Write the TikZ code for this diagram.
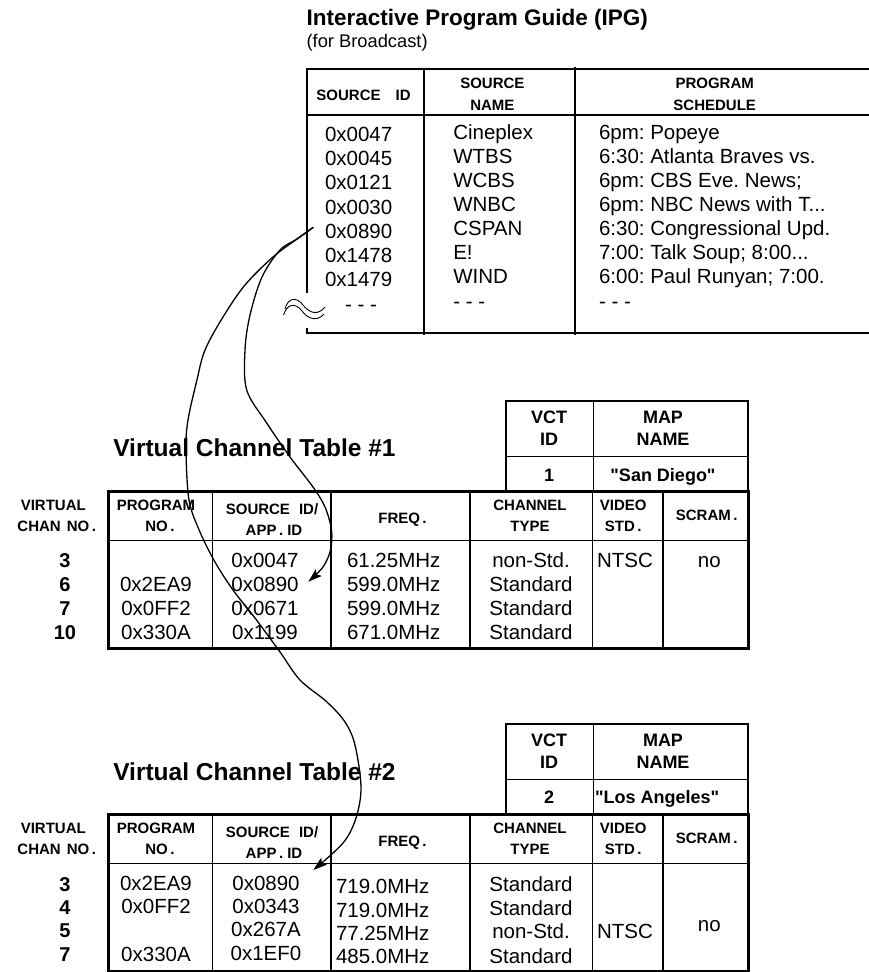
\documentclass[tikz,border=0pt]{standalone}
\usepackage{fontspec}
\setmainfont{Liberation Sans}
\usetikzlibrary{arrows.meta,calc}
\frenchspacing
\tikzset{
  every node/.style={inner sep=0pt, outer sep=0pt},
  bt/.style={font=\fontsize{20.5}{24}\selectfont, anchor=base west},
  bc/.style={font=\fontsize{20.5}{24}\selectfont, anchor=base},
  num/.style={font=\fontsize{20}{24}\selectfont\bfseries, anchor=base},
  hd/.style={font=\fontsize{15}{18}\selectfont\bfseries, anchor=base},
  bh/.style={font=\fontsize{18}{22}\selectfont\bfseries, anchor=base},
  ttl/.style={font=\fontsize{24.5}{28}\selectfont\bfseries, anchor=base west},
  sub/.style={font=\fontsize{18.3}{22}\selectfont, anchor=base west},
  rule/.style={line width=1.2pt},
  frame/.style={line width=2.5pt, line cap=rect},
  conn/.style={line width=1.3pt, -{Stealth[length=14pt,width=9pt,inset=3pt]}},
  wavy/.style={line width=0.9pt},
}
\newcommand{\qq}{\XeTeXglyph\XeTeXglyphindex "quotedbl"\relax}
\newcommand{\vctframe}{%
  \draw[line width=2pt, line cap=rect] (506,400.7) rectangle (748.3,491.5);
  \draw[rule] (593.3,400.7) -- (593.3,491.5) (506,456.7) -- (748.3,456.7);
  \draw[rule] (212.7,491.5) -- (212.7,648.3) (331,491.5) -- (331,648.3)
    (470,491.5) -- (470,648.3) (592.7,491.5) -- (592.7,648.3)
    (663,491.5) -- (663,648.3) (108.3,540.7) -- (748.3,540.7);
  \draw[frame] (108.3,491.5) -- (748.3,491.5) (108.3,648.3) -- (748.3,648.3)
    (748.3,491.5) -- (748.3,648.3);
  \draw[line width=3.5pt] (108.3,490.3) -- (108.3,649.5);
  \node[bh] (vct) at (549,423.3) {VCT};
  \node[bh] (id) at (549,445) {ID};
  \node[bh] (map) at (663,423.3) {MAP};
  \node[bh] (name) at (663,445) {NAME};
  \node[hd] (hv1) at (53.3,510.7) {VIRTUAL};
  \node[hd] (hv2) at (56.7,531.7) {CHAN\hspace{6pt}NO\,.};
  \node[hd] (hp1) at (156,510.7) {PROGRAM};
  \node[hd] (hp2) at (160,531.7) {NO\,.};
  \node[hd] (hs1) at (272,514) {SOURCE\hspace{9pt}ID/};
  \node[hd] (hs2) at (274,535) {APP\,.\hspace{4pt}ID};
  \node[hd] (hf) at (402.5,523.3) {FREQ\,.};
  \node[hd] (hc1) at (530,510.7) {CHANNEL};
  \node[hd] (hc2) at (530,531.7) {TYPE};
  \node[hd] (hvd1) at (623.3,510.7) {VIDEO};
  \node[hd] (hvd2) at (623.3,531.7) {STD\,.};
  \node[hd] (hsc) at (706.7,520) {SCRAM\,.};
}
\begin{document}
\begin{tikzpicture}[x=1pt,y=-1pt]
\useasboundingbox (0,0) rectangle (869,972);

% ---------------- IPG ----------------
\node[ttl, font=\fontsize{22.5}{28}\selectfont\bfseries] (ipgT) at (306.6,25) {Interactive Program Guide (IPG)};
\node[sub] (ipgS) at (306.6,47.3) {(for Broadcast)};
\draw[line width=2pt] (306,69.3) -- (869,69.3);
\draw[rule] (307,115) -- (869,115);
\draw[line width=2.2pt] (307,68.3) -- (307,293.3) (307,328.3) -- (307,334);
\draw[line width=2.5pt] (305.9,333) -- (869,333);
\draw[rule] (424,69.3) -- (424,335);
\draw[rule] (575,66.5) -- (575,335);
\node[hd] (h1) at (363.5,100) {SOURCE\hspace{15pt}ID};
\node[hd] (h2a) at (492.4,88.3) {SOURCE};
\node[hd] (h2b) at (492.4,110) {NAME};
\node[hd] (h3a) at (714.7,88.3) {PROGRAM};
\node[hd] (h3b) at (714.7,110) {SCHEDULE};
\foreach \t [count=\i] in {0x0047,0x0045,0x0121,0x0030,0x0890,0x1478,0x1479}
  \node[bt] (i\i) at (325,{141.5+24.2*(\i-1)}) {\t};
\foreach \t [count=\i] in {Cineplex,WTBS,WCBS,WNBC,CSPAN,E!,WIND}
  \node[bt] (n\i) at (453.3,{139+24.05*(\i-1)}) {\t};
\node[bt] (s1) at (599,139) {6pm: Popeye};
\node[bt] (s2) at (599,163.05) {6:30: Atlanta Braves vs.};
\node[bt] (s3) at (599,187.1) {6pm: CBS Eve. News;};
\node[bt] (s4) at (599,211.15) {6pm: NBC News with T...};
\node[bt] (s5) at (599,235.2) {6:30: Congressional Upd.};
\node[bt] (s6) at (599,259.25) {7:00: Talk Soup; 8:00...};
\node[bt] (s7) at (599,283.3) {6:00: Paul Runyan; 7:00.};
\node[bt] (i8) at (345,311) {- - -};
\node[bt] (n8) at (453.3,308) {- - -};
\node[bt] (s8) at (599,308) {- - -};
\draw[wavy] (285,309) .. controls (288,298) and (296,296) .. (303,305)
  .. controls (309,313) and (318,316) .. (325,307);
\draw[wavy] (283.5,315) .. controls (287,304) and (295,302) .. (302,311)
  .. controls (308,319) and (317,322) .. (324,314);

% ---------------- VCT #1 ----------------
\begin{scope}[name prefix=v1-]
\vctframe
\node[ttl] (title) at (113.3,456.7) {Virtual Channel Table \#1};
\node[bh] (vid) at (549,481.7) {1};
\node[bh] (mname) at (663,481.7) {\qq San Diego\qq};
\foreach \t [count=\i] in {3,6,7,10}
  \node[num] (r\i) at (65,{567.3+24.2*(\i-1)}) {\t};
\node[bc] (p2) at (156,591.5) {0x2EA9};
\node[bc] (p3) at (156,615.7) {0x0FF2};
\node[bc] (p4) at (156,639.9) {0x330A};
\foreach \t [count=\i] in {0x0047,0x0890,0x0671,0x1199}
  \node[bc] (s\i) at (265,{567.3+24.2*(\i-1)}) {\t};
\foreach \t [count=\i] in {61.25MHz,599.0MHz,599.0MHz,671.0MHz}
  \node[bt] (f\i) at (347,{567.3+24.2*(\i-1)}) {\t};
\foreach \t [count=\i] in {non-Std.,Standard,Standard,Standard}
  \node[bc] (c\i) at (531,{567.3+24.2*(\i-1)}) {\t};
\node[bt] (ntsc) at (597,567.3) {NTSC};
\node[bc] (scr) at (709.3,567.3) {no};
\end{scope}

% ---------------- VCT #2 ----------------
\begin{scope}[name prefix=v2-, shift={(0,323)}]
\vctframe
\node[ttl] (title) at (113.3,457) {Virtual Channel Table \#2};
\node[bh] (vid) at (549,480) {2};
\node[bh, anchor=base west] (mname) at (595,480) {\qq Los Angeles\qq};
\node[num] (r1) at (65,568.5) {3};
\node[num] (r2) at (65,591.8) {4};
\node[num] (r3) at (65,614.8) {5};
\node[num] (r4) at (65,638.7) {7};
\node[bc] (p1) at (156,567) {0x2EA9};
\node[bc] (p2) at (156,590) {0x0FF2};
\node[bc] (p4) at (156,638.7) {0x330A};
\node[bc] (s1) at (266,567) {0x0890};
\node[bc] (s2) at (266,590) {0x0343};
\node[bc] (s3) at (266,613.7) {0x267A};
\node[bc] (s4) at (266,637.7) {0x1EF0};
\node[bt] (f1) at (336,570.3) {719.0MHz};
\node[bt] (f2) at (336,594.3) {719.0MHz};
\node[bt] (f3) at (336,617) {77.25MHz};
\node[bt] (f4) at (336,640.3) {485.0MHz};
\node[bc] (c1) at (531,568.7) {Standard};
\node[bc] (c2) at (531,592) {Standard};
\node[bc] (c3) at (531,615.3) {non-Std.};
\node[bc] (c4) at (531,640.3) {Standard};
\node[bt] (ntsc) at (597,615.3) {NTSC};
\node[bc] (scr) at (709.3,608.7) {no};
\end{scope}

% ---------------- connectors ----------------
\coordinate (src) at (313.3,227.3);
\coordinate (tip1) at (308.3,581.7);
\coordinate (tip2) at (313.3,870);
\draw[conn] plot[smooth, tension=0.55] coordinates {(src) (297,239) (280,250) (262,277) (250,315) (245,350) (246.7,390) (266.7,423) (290,457) (313,487) (325,507) (331.5,530) (330.5,550) (323,567) (tip1)};
\draw[conn] plot[smooth, tension=0.55] coordinates {(src) (297,239) (273,257) (245,285) (223,317) (205,350) (196.7,381) (188,420) (186,449) (189,500) (200,532) (215,562) (233,590) (255,618) (280,652) (300,680) (327,702) (345,722) (355,745) (361,787) (356,818) (343,843) (tip2)};
\end{tikzpicture}
\end{document}
